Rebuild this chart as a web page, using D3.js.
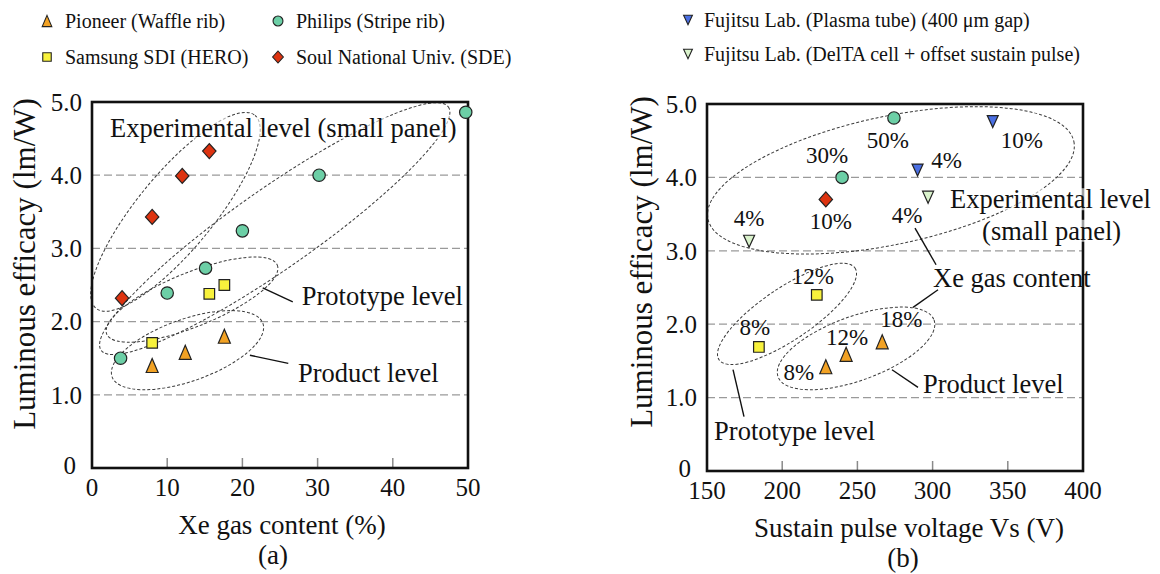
<!DOCTYPE html>
<html>
<head>
<meta charset="utf-8">
<script src="https://cdn.jsdelivr.net/npm/d3@7"></script>
<style>
  body { margin: 0; background: #fff; }
  svg text { font-family: "Liberation Serif", "Times New Roman", serif; fill: #111; }
</style>
</head>
<body>
<svg id="chart" width="1160" height="574"></svg>
<script>
// ========================================
// DATA
// ========================================

const effTicks = [0, 1, 2, 3, 4, 5];
const effTickLabels = ["0", "1.0", "2.0", "3.0", "4.0", "5.0"];
const xeTicks = [0, 10, 20, 30, 40, 50];
const vsTicks = [150, 200, 250, 300, 350, 400];

// panel (a): Xe gas content (%) vs luminous efficacy (lm/W)
const pioneerA = [[8.0, 1.40], [12.4, 1.58], [17.6, 1.80]];
const philipsA = [[3.8, 1.50], [10.0, 2.39], [15.1, 2.73], [20.0, 3.24], [30.2, 4.00], [49.7, 4.86]];
const samsungA = [[8.0, 1.71], [15.6, 2.38], [17.6, 2.50]];
const snuA = [[4.0, 2.32], [8.0, 3.43], [12.0, 3.99], [15.6, 4.33]];

// panel (b): sustain pulse voltage (V) vs luminous efficacy, with Xe content
const pioneerB = [[229, 1.42, "8%"], [242.5, 1.59, "12%"], [266.5, 1.76, "18%"]];
const philipsB = [[239.8, 4.00, "30%"], [274.3, 4.81, "50%"]];
const samsungB = [[223, 2.40, "12%"], [184.5, 1.69, "8%"]];
const snuB = [[229, 3.70, "10%"]];
const plasmaTubeB = [[290, 4.10, "4%"], [340, 4.76, "10%"]];
const deltaB = [[178, 3.13, "4%"], [297, 3.73, "4%"]];

// where the Xe % label sits relative to its marker (px)
const pioneerBLabelPos = [[-27, 13], [1, -9], [19, -15]];
const philipsBLabelPos = [[-15, -14], [-6, 30]];
const samsungBLabelPos = [[-4, -11], [-4, -12]];
const snuBLabelPos = [[5, 30]];
const plasmaTubeBLabelPos = [[29, -2], [29, 26]];
const deltaBLabelPos = [[0, -15], [-21, 26]];

// group outlines: centre in data units, radii in px, angle in degrees
const ellipsesA = [
  { cx: 11.1, cy: 3.50, rx: 125, ry: 38, angle: -50.5 },
  { cx: 24.3, cy: 3.27, rx: 212, ry: 40, angle: -35 },
  { cx: 13.3, cy: 2.30, rx: 92, ry: 27, angle: -22 },
  { cx: 12.7, cy: 1.61, rx: 80, ry: 31, angle: -19.5 }
];
const ellipsesB = [
  { cx: 272.3, cy: 3.96, rx: 187, ry: 64, angle: -12 },
  { cx: 203.2, cy: 2.14, rx: 82, ry: 26, angle: -34 },
  { cx: 249.1, cy: 1.67, rx: 83, ry: 32, angle: -20 }
];

const notesA = [
  { x: 2.4, y: 4.52, text: "Experimental level (small panel)", box: true },
  { x: 27.9, y: 2.23, text: "Prototype level" },
  { x: 27.4, y: 1.17, text: "Product level" }
];
const notesB = [
  { x: 311.6, y: 3.58, text: "Experimental level", box: true },
  { x: 332.9, y: 3.15, text: "(small panel)", box: true },
  { x: 300.3, y: 2.51, text: "Xe gas content" },
  { x: 293.6, y: 1.06, text: "Product level" },
  { x: 154.7, y: 0.42, text: "Prototype level" }
];
const leadersA = [
  [[22.7, 2.46], [26.7, 2.27]],
  [[21.0, 1.54], [26.1, 1.43]]
];
const leadersB = [
  [[288.3, 3.31], [302.3, 2.81]],
  [[303.6, 2.47], [287.0, 2.23]],
  [[273.0, 1.38], [290.3, 1.14]],
  [[167.3, 1.38], [174.6, 0.74]]
];

// ========================================
// STYLES
// ========================================

const colors = {
  pioneer: "#f2a224",
  philips: "#6ccfa6",
  samsung: "#f8f23c",
  snu: "#dd3310",
  plasma: "#4a6fe3",
  delta: "#daf3cc"
};

const shapes = {
  triUp: (s) => `M0,${-7 * s}L${6 * s},${7 * s}L${-6 * s},${7 * s}Z`,
  triDown: (s) => `M0,${6 * s}L${5.5 * s},${-6 * s}L${-5.5 * s},${-6 * s}Z`,
  square: (s) => `M${-5.3 * s},${-5.3 * s}h${10.6 * s}v${10.6 * s}h${-10.6 * s}Z`,
  diamond: (s) => `M0,${-7.5 * s}L${6.7 * s},0L0,${7.5 * s}L${-6.7 * s},0Z`,
  circle: (s) => d3.arc()({ innerRadius: 0, outerRadius: 6.2 * s, startAngle: 0, endAngle: 2 * Math.PI })
};

const svg = d3.select("#chart");

// ========================================
// PANEL FRAME, GRID AND AXES
// ========================================

function drawPanel(cfg) {
  const g = svg.append("g");
  const x = d3.scaleLinear().domain(cfg.xDomain).range(cfg.xRange);
  const y = d3.scaleLinear().domain([0, 5]).range(cfg.yRange);

  // dashed horizontal grid
  g.selectAll("line.grid").data(effTicks.slice(1, -1)).enter().append("line")
    .attr("x1", cfg.xRange[0]).attr("x2", cfg.xRange[1])
    .attr("y1", (d) => y(d)).attr("y2", (d) => y(d))
    .attr("stroke", "#9a9a9a").attr("stroke-width", 1.3).attr("stroke-dasharray", "8,4");

  // inner x ticks
  g.selectAll("line.tick").data(cfg.xTicks.slice(1, -1)).enter().append("line")
    .attr("x1", (d) => x(d)).attr("x2", (d) => x(d))
    .attr("y1", cfg.yRange[0]).attr("y2", cfg.yRange[0] - 10)
    .attr("stroke", "#8a8a8a").attr("stroke-width", 1.5);

  g.selectAll("text.xt").data(cfg.xTicks).enter().append("text")
    .attr("x", (d) => x(d)).attr("y", cfg.yRange[0] + 28)
    .attr("text-anchor", "middle").attr("font-size", 25)
    .text((d) => d);

  // the "0" label sits a little further out, as in the original
  g.selectAll("text.yt").data(effTicks).enter().append("text")
    .attr("x", (d) => cfg.xRange[0] - (d === 0 ? 16 : 10))
    .attr("y", (d) => y(d) - (d === 0 ? 3 : 0)).attr("dy", "0.35em")
    .attr("text-anchor", "end").attr("font-size", 25)
    .text((d, i) => effTickLabels[i]);

  g.append("text")
    .attr("transform", `translate(${cfg.yTitleX},${cfg.yTitleY}) rotate(-90)`)
    .attr("text-anchor", "middle").attr("font-size", 31)
    .text("Luminous efficacy (lm/W)");

  g.append("text")
    .attr("x", cfg.xTitleX).attr("y", cfg.yRange[0] + 66)
    .attr("text-anchor", "middle").attr("font-size", 27)
    .text(cfg.xTitle);

  g.append("text")
    .attr("x", cfg.tagX).attr("y", cfg.yRange[0] + 96)
    .attr("text-anchor", "middle").attr("font-size", 27)
    .text(cfg.tag);

  // group outlines
  g.selectAll("ellipse").data(cfg.ellipses).enter().append("ellipse")
    .attr("transform", (d) => `translate(${x(d.cx)},${y(d.cy)}) rotate(${d.angle})`)
    .attr("rx", (d) => d.rx).attr("ry", (d) => d.ry)
    .attr("fill", "none").attr("stroke", "#3a3a3a").attr("stroke-width", 1)
    .attr("stroke-dasharray", "3,2");

  g.selectAll("line.leader").data(cfg.leaders).enter().append("line")
    .attr("x1", (d) => x(d[0][0])).attr("y1", (d) => y(d[0][1]))
    .attr("x2", (d) => x(d[1][0])).attr("y2", (d) => y(d[1][1]))
    .attr("stroke", "#111").attr("stroke-width", 1.4);

  // frame
  g.append("rect")
    .attr("x", cfg.xRange[0]).attr("y", cfg.yRange[1])
    .attr("width", cfg.xRange[1] - cfg.xRange[0]).attr("height", cfg.yRange[0] - cfg.yRange[1])
    .attr("fill", "none").attr("stroke", "#111").attr("stroke-width", 2.6);

  // notes (with a faint white backing like the original)
  cfg.notes.forEach((n) => {
    const t = g.append("text")
      .attr("x", x(n.x)).attr("y", y(n.y))
      .attr("font-size", 26.5).text(n.text);
    if (n.box) {
      const b = t.node().getBBox();
      g.insert("rect", () => t.node())
        .attr("x", b.x).attr("y", b.y + 4).attr("width", b.width).attr("height", b.height - 8)
        .attr("fill", "#fff").attr("fill-opacity", 0.6);
    }
  });

  return { g, x, y };
}

function drawMarkers(p, data, shape, color, labelPos) {
  data.forEach((d, i) => {
    p.g.append("path")
      .attr("transform", `translate(${p.x(d[0])},${p.y(d[1])})`)
      .attr("d", shapes[shape](1))
      .attr("fill", color).attr("stroke", "#222").attr("stroke-width", 1.2);
    if (labelPos) {
      p.g.append("text")
        .attr("x", p.x(d[0]) + labelPos[i][0]).attr("y", p.y(d[1]) + labelPos[i][1])
        .attr("text-anchor", "middle").attr("font-size", 23)
        .text(d[2]);
    }
  });
}

// ========================================
// PANEL (a)
// ========================================

const pa = drawPanel({
  xDomain: [0, 50], xRange: [92, 468], yRange: [468, 102], xTicks: xeTicks,
  yTitleX: 35, yTitleY: 264, xTitle: "Xe gas content (%)", xTitleX: 282, tag: "(a)", tagX: 273,
  ellipses: ellipsesA, leaders: leadersA, notes: notesA
});
drawMarkers(pa, snuA, "diamond", colors.snu);
drawMarkers(pa, philipsA, "circle", colors.philips);
drawMarkers(pa, samsungA, "square", colors.samsung);
drawMarkers(pa, pioneerA, "triUp", colors.pioneer);

// ========================================
// PANEL (b)
// ========================================

const pb = drawPanel({
  xDomain: [150, 400], xRange: [707, 1083], yRange: [471, 104], xTicks: vsTicks,
  yTitleX: 652, yTitleY: 262, xTitle: "Sustain pulse voltage Vs (V)", xTitleX: 909, tag: "(b)", tagX: 903,
  ellipses: ellipsesB, leaders: leadersB, notes: notesB
});
drawMarkers(pb, philipsB, "circle", colors.philips, philipsBLabelPos);
drawMarkers(pb, snuB, "diamond", colors.snu, snuBLabelPos);
drawMarkers(pb, samsungB, "square", colors.samsung, samsungBLabelPos);
drawMarkers(pb, pioneerB, "triUp", colors.pioneer, pioneerBLabelPos);
drawMarkers(pb, plasmaTubeB, "triDown", colors.plasma, plasmaTubeBLabelPos);
drawMarkers(pb, deltaB, "triDown", colors.delta, deltaBLabelPos);

// ========================================
// LEGENDS
// ========================================

const legendItems = [
  { x: 47, y: 21, shape: "triUp", color: colors.pioneer, text: "Pioneer (Waffle rib)" },
  { x: 47, y: 57, shape: "square", color: colors.samsung, text: "Samsung SDI (HERO)" },
  { x: 278, y: 21, shape: "circle", color: colors.philips, text: "Philips (Stripe rib)" },
  { x: 278, y: 57, shape: "diamond", color: colors.snu, text: "Soul National Univ. (SDE)" },
  { x: 688, y: 20, shape: "triDown", color: colors.plasma, text: "Fujitsu Lab. (Plasma tube) (400 \u03bcm gap)" },
  { x: 688, y: 54, shape: "triDown", color: colors.delta, text: "Fujitsu Lab. (DelTA cell + offset sustain pulse)" }
];

const legend = svg.append("g");
legendItems.forEach((d) => {
  legend.append("path")
    .attr("transform", `translate(${d.x},${d.y})`)
    .attr("d", shapes[d.shape](0.8))
    .attr("fill", d.color).attr("stroke", "#222").attr("stroke-width", 1.1);
  legend.append("text")
    .attr("x", d.x + (d.shape === "triDown" ? 16 : 18)).attr("y", d.y + 7)
    .attr("font-size", 20).text(d.text);
});
</script>
</body>
</html>
